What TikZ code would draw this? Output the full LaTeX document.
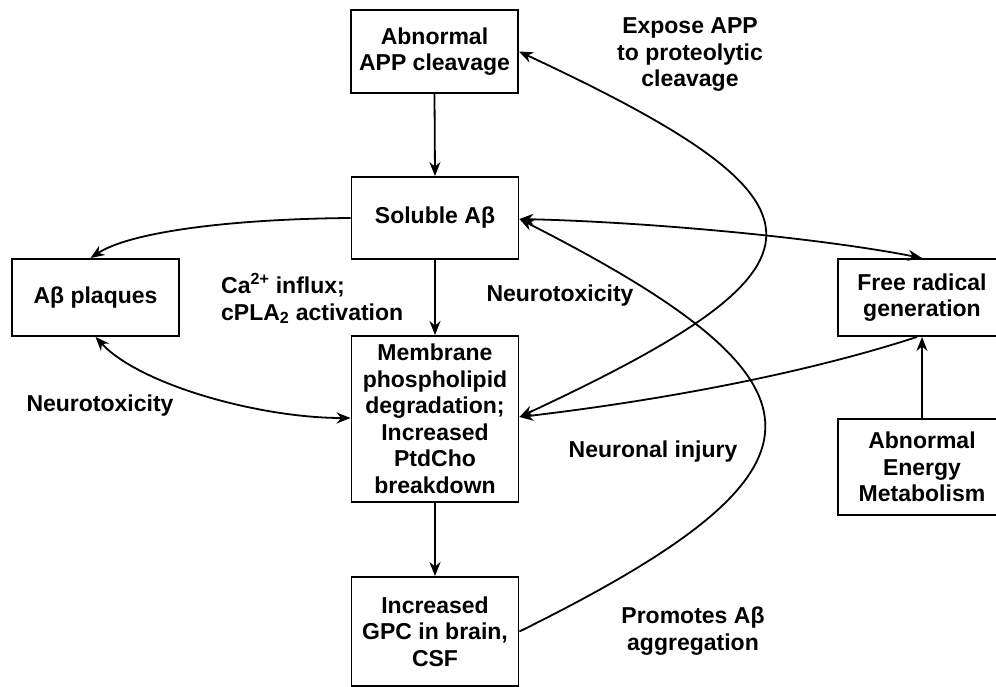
\documentclass[tikz,border=0pt]{standalone}
\usepackage{fontspec}
\setmainfont{Liberation Sans}
\usetikzlibrary{arrows.meta}
\begin{document}
\begin{tikzpicture}[x=1pt,y=-1pt,
  every node/.style={font=\fontsize{23}{26.5}\selectfont\bfseries, align=center, inner sep=0pt},
  box/.style={draw, line width=1.9pt, minimum width=167pt},
  conn/.style={line width=1.8pt, -{Stealth[length=14pt,width=11pt]}},
  dconn/.style={line width=1.8pt, {Stealth[length=14pt,width=11pt]}-{Stealth[length=14pt,width=11pt]}}]
\useasboundingbox (0,0) rectangle (996,687);
\clip (0,0) rectangle (996,687);
% boxes
\node[box, minimum height=83pt] (app) at (434.5,51.5) {Abnormal\\APP cleavage};
\node[box, minimum height=82pt] (sol) at (435,218) {Soluble Aβ};
\node[box, minimum height=77pt] (plq) at (95.5,297.5) {Aβ plaques};
\node[box, minimum height=166pt] (mem) at (435,419) {Membrane\\phospholipid\\degradation;\\Increased\\PtdCho\\breakdown};
\node[box, minimum height=109pt] (gpc) at (435,631.5) {Increased\\GPC in brain,\\CSF};
\node[box, minimum width=168pt, minimum height=77pt] (frg) at (922,297.5) {Free radical\\generation};
\node[box, minimum width=168pt, minimum height=96pt] (aem) at (922,467) {Abnormal\\Energy\\Metabolism};
% labels
\node (l1) at (690,55) {Expose APP\\to proteolytic\\cleavage};
\node[anchor=west, align=left] (l2) at (221,298.5) {Ca\textsuperscript{2+} influx;\\cPLA\textsubscript{2} activation};
\node (l3) at (560,296) {Neurotoxicity};
\node (l4) at (100,406) {Neurotoxicity};
\node (l5) at (653,452) {Neuronal injury};
\node (l6) at (693,631) {Promotes Aβ\\aggregation};
% coordinates on boxes
\coordinate (appE) at (app.east);
\coordinate (solE) at ([yshift=-1pt]sol.east);
\coordinate (memE) at ([yshift=2pt]mem.east);
\coordinate (memW) at ([yshift=1pt]mem.west);
\coordinate (gpcE) at (gpc.east);
\coordinate (plqN) at ([xshift=-5pt]plq.north);
\coordinate (plqS) at (plq.south);
\coordinate (frgN) at (frg.north);
\coordinate (frgS) at ([xshift=-5pt]frg.south);
% straight arrows
\draw[conn] (app.south) -- (sol.north);
\draw[conn] (sol.south) -- (mem.north);
\draw[conn] (mem.south) -- (gpc.north);
\draw[conn] (aem.north) -- (frg.south);
% curved arrows
\draw[conn] (sol.west) .. controls (230,219) and (130,232) .. (plqN);
\draw[dconn] (plqS) .. controls (140,385) and (260,418) .. (memW);
\draw[dconn] (solE) .. controls (650,222) and (820,238) .. (frgN);
\draw[dconn] (appE) .. controls (846,204) and (846,265) .. (memE);
\draw[conn] (gpcE) .. controls (846,470) and (846,385) .. (solE);
\draw[conn] (frgS) .. controls (797,376) and (648,402) .. (memE);
\end{tikzpicture}
\end{document}
